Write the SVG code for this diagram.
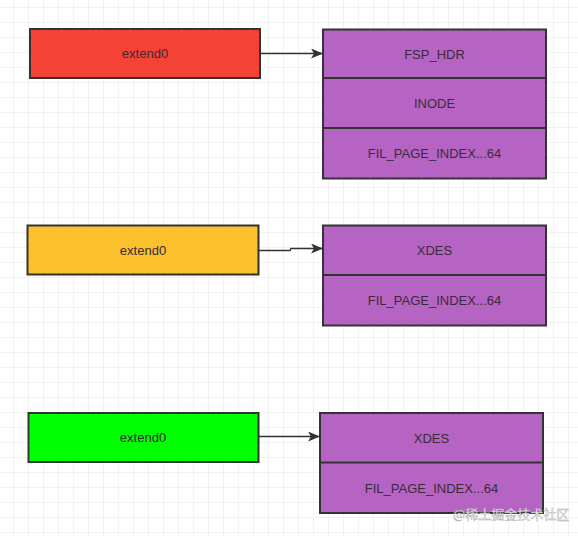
<svg xmlns="http://www.w3.org/2000/svg" width="578" height="536" viewBox="0 0 578 536">
<defs>
<pattern id="grid" x="13" y="7" width="15" height="15" patternUnits="userSpaceOnUse">
<path d="M0 0H15M0 0V15" fill="none" stroke="#e6e6e6" stroke-width="1"/>
</pattern>
<marker id="arr" markerWidth="12" markerHeight="10" refX="11" refY="5" orient="auto" markerUnits="userSpaceOnUse">
<path d="M0 0L12 5L0 10L3 5Z" fill="#333"/>
</marker>
<style>
.box{stroke:#333;stroke-width:2}
.red{fill:#F44336}
.yel{fill:#FBC02D}
.grn{fill:#00FF00}
.pur{fill:#B664C4}
.div{stroke:#333;stroke-width:2}
.t{font-family:"Liberation Sans","Noto Sans",sans-serif;font-size:13px;fill:#3a2a3a;text-anchor:middle;dominant-baseline:central}
.conn{fill:none;stroke:#333;stroke-width:1.5;marker-end:url(#arr)}
.wm{font-family:"Noto Sans CJK SC",sans-serif;font-size:13px;fill:#f2f2f2;stroke:#aaa;stroke-width:0.4}
</style>
</defs>
<rect width="578" height="536" fill="#fff"/>
<rect width="578" height="536" fill="url(#grid)"/>
<g id="extend0-red">
<rect class="box red" x="30" y="29" width="230" height="49"/>
<text class="t" x="145" y="53.5">extend0</text>
</g>
<g id="page-group-1">
<rect class="box pur" x="323" y="29.5" width="223" height="149"/>
<line class="div" x1="323" y1="78" x2="546" y2="78"/>
<line class="div" x1="323" y1="128" x2="546" y2="128"/>
<text class="t" x="434.5" y="54">FSP_HDR</text>
<text class="t" x="434.5" y="103">INODE</text>
<text class="t" x="434.5" y="153">FIL_PAGE_INDEX...64</text>
</g>
<g id="extend0-yellow">
<rect class="box yel" x="27.5" y="225.5" width="231" height="49"/>
<text class="t" x="143" y="250">extend0</text>
</g>
<g id="page-group-2">
<rect class="box pur" x="323" y="225.5" width="223" height="100"/>
<line class="div" x1="323" y1="275" x2="546" y2="275"/>
<text class="t" x="434.5" y="250">XDES</text>
<text class="t" x="434.5" y="300">FIL_PAGE_INDEX...64</text>
</g>
<g id="extend0-green">
<rect class="box grn" x="28.5" y="413" width="230" height="49"/>
<text class="t" x="143" y="437.5">extend0</text>
</g>
<g id="page-group-3">
<rect class="box pur" x="320" y="413" width="223" height="100"/>
<line class="div" x1="320" y1="462.5" x2="543" y2="462.5"/>
<text class="t" x="431.5" y="438">XDES</text>
<text class="t" x="431.5" y="488">FIL_PAGE_INDEX...64</text>
</g>
<g id="connectors">
<path class="conn" d="M260 53.5H322"/>
<path class="conn" d="M258.5 250.5H290L291 248.5H322"/>
<path class="conn" d="M258.5 436.5H319"/>
</g>
<text class="wm" x="453" y="519">@稀土掘金技术社区</text>
</svg>
